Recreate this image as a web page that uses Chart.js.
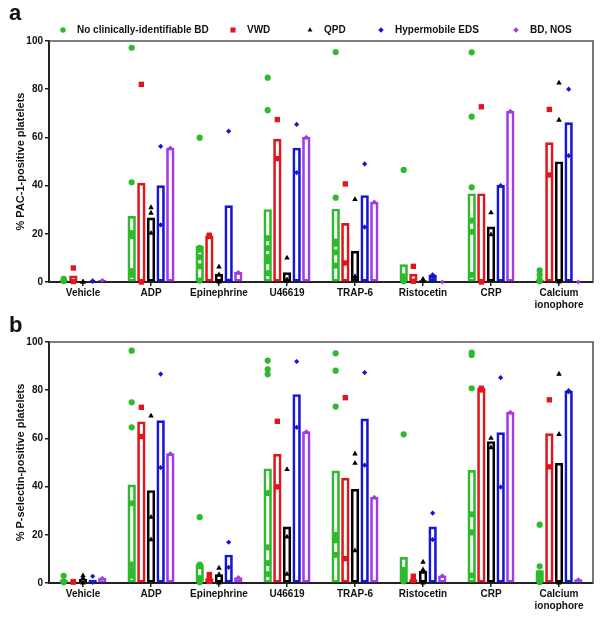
<!DOCTYPE html>
<html>
<head>
<meta charset="utf-8">
<script src="https://cdn.jsdelivr.net/npm/chart.js@4.4.1/dist/chart.umd.min.js"></script>
<style>
  html,body{margin:0;padding:0;background:#fff;overflow:hidden;}
  #wrap{position:relative;width:604px;height:620px;}
  canvas{position:absolute;left:0;}
  #chartA{top:0;}
  #chartB{top:301px;}
  .panel{position:absolute;font:bold 22px "Liberation Sans",Arial,sans-serif;line-height:22px;color:#111;}
</style>
</head>
<body>
<div id="wrap">
  <canvas id="chartA" width="604" height="320"></canvas>
  <canvas id="chartB" width="604" height="320"></canvas>
  <div class="panel" style="left:9px;top:2px">a</div>
  <div class="panel" style="left:9px;top:314px">b</div>
</div>
<script>
// agonists on the x axis
const categories = ['Vehicle','ADP','Epinephrine','U46619','TRAP-6','Ristocetin','CRP',['Calcium','ionophore']];
const seriesNames = ['No clinically-identifiable BD','VWD','QPD','Hypermobile EDS','BD, NOS'];
const yTicks = [0,20,40,60,80,100];

// --- panel a: % PAC-1-positive platelets (bar = mean, points = patients) ---
const pacBarNone = [0.8, 27.2, 14.8, 30.1, 30.3, 7.2, 36.6, 0.8];
const pacBarVwd  = [2.6, 41.0, 19.2, 59.3, 24.3, 3.2, 36.6, 57.8];
const pacBarQpd  = [0.2, 26.6, 3.3, 3.9, 12.8, 0.6, 22.9, 49.9];
const pacBarHeds = [0.4, 40.0, 31.7, 55.6, 35.9, 2.9, 40.1, 66.1];
const pacBarNos  = [0.7, 55.6, 4.0, 60.1, 33.2, 0, 70.9, 0];

const pacPtsNone = [[1.3,0.8,0.4],[97.2,41.4,20.3,19,4.5,3],[59.9,14.2,13.4,10.3,6.5,0.6],[84.8,71.3,18.2,14.1,10.3,8.6,3.7],[95.4,35,16.8,15.9,12.3,6.8],[46.5,2.3,1,0.3],[95.3,68.6,39.3,25.5,20.8,3],[4.8,3,1,0.3]];
const pacPtsVwd  = [[5.8,0.2],[82,0],[19.4,18.9],[67.4,51.2],[40.7,7.9],[6.5,0.3],[72.7,0],[71.6,44.4]];
const pacPtsQpd  = [[0,0],[30.9,28.6,20.3],[6.3,3,0],[10,1,0.3],[34.3,2.3,1.2],[1.2,0.3],[28.8,19.6],[82.6,67.2,0]];
const pacPtsHeds = [[0.5,0.3],[56.3,23.7],[62.6,0.5],[65.4,45.4],[49,22.8],[3,2],[40],[80,52.4]];
const pacPtsNos  = [[0.7],[55.6],[4],[60.1],[33.2],[0],[70.9],[0]];

// --- panel b: % P-selectin-positive platelets ---
const psBarNone = [1.2, 40.7, 7.6, 47.4, 46.5, 10.6, 46.7, 5.2];
const psBarVwd  = [0.5, 66.9, 1.8, 53.5, 43.5, 1.4, 80.8, 62.0];
const psBarQpd  = [1.5, 38.4, 3.5, 23.3, 38.9, 4.8, 58.7, 49.7];
const psBarHeds = [1.2, 67.4, 11.6, 78.2, 68.1, 23.3, 62.4, 79.7];
const psBarNos  = [2.0, 53.7, 2.3, 62.8, 35.6, 3.0, 70.9, 1.4];

const psPtsNone = [[3,0.7,0.3],[96.4,75,64.6,33.1,7.6,5.2,3],[27.3,7.6,7,2,1.4,0.3],[92.3,88.7,86.6,37.3,14.8,8.3,3.7],[95.3,88.1,73.2,20,17.7,11.7],[61.7,5.5,4.1,2.8,1.4,0.7],[95.6,94.6,80.8,28.5,21,3.2],[24.2,6.9,4.1,2.5,1.4,0.4]];
const psPtsVwd  = [[0.4,0.6],[72.9,60.8],[3.5,1.4,0.7],[67.1,39.9],[76.9,10.1],[2.8,1.1],[80.8,80.1],[76,48.2]];
const psPtsQpd  = [[3,2,0],[69.3,27.3,18],[6.2,3.5,0],[47.1,19.1,3.7],[53.6,49.7,13.4],[8.7,5.5,0],[60.1,56.2],[86.7,61.7,0]];
const psPtsHeds = [[2.8,0.3],[86.7,47.9],[16.9,6.5],[91.9,64.6],[87.3,48.9],[29,18],[85.2,39.8],[79.8,79.4]];
const psPtsNos  = [[2],[53.7],[2.3],[62.8],[35.6],[3],[70.9],[1.4]];

(function(){
  const FONT = '"Liberation Sans", Arial, sans-serif';
  const colors  = ['#2dbb2d','#e5141c','#000000','#1515d4','#a33be2'];
  const shapes  = ['circle','rect','triangle','rectRot','rectRot'];
  const radii   = [3.1, 3.8, 3.2, 2.6, 2.4];
  const legendX = [63, 233, 310, 381, 516];   // marker centres of the legend row
  const GROUP = 0.71;                          // share of a category taken by its 5 bars
  const slot = GROUP / seriesNames.length;
  const slotX = (i,k)=> i + (k - (seriesNames.length-1)/2) * slot;

  Chart.defaults.font.family = FONT;
  Chart.defaults.font.weight = 'bold';
  Chart.defaults.font.size = 10;
  Chart.defaults.color = '#111';

  function marker(ctx, k, x, y, r){
    ctx.fillStyle = colors[k];
    ctx.beginPath();
    if(shapes[k]==='circle'){ ctx.arc(x,y,r,0,Math.PI*2); }
    else if(shapes[k]==='rect'){ const s=r*0.75; ctx.rect(x-s,y-s,2*s,2*s); }
    else if(shapes[k]==='triangle'){ ctx.moveTo(x,y-r); ctx.lineTo(x+r*0.9,y+r*0.6); ctx.lineTo(x-r*0.9,y+r*0.6); ctx.closePath(); }
    else { ctx.moveTo(x,y-r); ctx.lineTo(x+r,y); ctx.lineTo(x,y+r); ctx.lineTo(x-r,y); ctx.closePath(); }
    ctx.fill();
  }

  // top + right frame of the plot box
  const framePlugin = {
    id:'frame',
    beforeDatasetsDraw(chart){
      const {ctx, chartArea:a} = chart;
      ctx.save();
      ctx.strokeStyle = '#555'; ctx.lineWidth = 1.6;
      ctx.beginPath();
      ctx.moveTo(a.left, a.top); ctx.lineTo(a.right, a.top); ctx.lineTo(a.right, a.bottom);
      ctx.stroke();
      ctx.restore();
    }
  };

  // one-row legend above panel a
  const legendPlugin = {
    id:'rowLegend',
    afterDraw(chart, args, opts){
      if(!opts.show) return;
      const ctx = chart.ctx;
      ctx.save();
      ctx.font = 'bold 10px ' + FONT;
      ctx.textBaseline = 'middle';
      seriesNames.forEach((name,k)=>{
        const x = legendX[k], y = 30;
        marker(ctx, k, x, y, k===1 ? 3.4 : 2.7);
        ctx.fillStyle = '#111';
        ctx.fillText(name, x + 14, y);
      });
      ctx.restore();
    }
  };

  // bars and points both sit on the hidden linear axis 'xs' (category i -> value i)
  function datasets(bars, pts){
    const out = [];
    bars.forEach((vals,k)=>{
      out.push({
        type:'bar', label:seriesNames[k], xAxisID:'xs', yAxisID:'y',
        data: vals.map((v,i)=>({x: slotX(i,k), y: v})),
        grouped:false, categoryPercentage:1, barPercentage:1, maxBarThickness:7.7,
        backgroundColor:'rgba(0,0,0,0)', borderColor:colors[k], borderWidth:2, borderSkipped:false,
        order:2
      });
    });
    pts.forEach((groups,k)=>{
      const data = [];
      groups.forEach((vals,i)=> vals.forEach(v=> data.push({x: slotX(i,k), y: v})));
      out.push({
        type:'scatter', label:seriesNames[k], data, xAxisID:'xs', yAxisID:'y',
        pointStyle:shapes[k], pointRadius:radii[k], pointBackgroundColor:colors[k],
        pointBorderWidth:0, clip:false, order:1
      });
    });
    return out;
  }

  function build(id, yTitle, bars, pts, showLegend){
    return new Chart(document.getElementById(id), {
      type:'bar',
      data:{ labels:categories, datasets:datasets(bars, pts) },
      options:{
        responsive:false, animation:false,
        layout:{ padding:{ top:41, right:11, left:0, bottom:0 } },
        plugins:{ legend:{display:false}, tooltip:{enabled:false}, rowLegend:{show:showLegend} },
        scales:{
          x:{
            type:'category', offset:true,
            grid:{display:true, offset:false, drawOnChartArea:false, drawTicks:true, tickLength:4, color:'#222', lineWidth:1.5},
            border:{display:true, color:'#222', width:2},
            ticks:{padding:1, maxRotation:0, autoSkip:false, color:'#111', font:{size:10, weight:'bold'}},
            afterFit(s){ s.height = 38; }
          },
          xs:{ type:'linear', display:false, offset:false, min:-0.5, max:categories.length-0.5 },
          y:{
            min:yTicks[0], max:yTicks[yTicks.length-1],
            afterBuildTicks(s){ s.ticks = yTicks.map(v=>({value:v})); },
            ticks:{padding:2, color:'#111', font:{size:10, weight:'bold'}},
            grid:{display:true, drawOnChartArea:false, drawTicks:true, tickLength:4, color:'#222', lineWidth:1.5},
            border:{display:true, color:'#222', width:2},
            title:{display:true, text:yTitle, color:'#111', font:{size:11, weight:'bold'}, padding:{top:14, bottom:0}},
            afterFit(s){ s.width = 49; }
          }
        }
      },
      plugins:[framePlugin, legendPlugin]
    });
  }

  build('chartA', '% PAC-1-positive platelets',
    [pacBarNone, pacBarVwd, pacBarQpd, pacBarHeds, pacBarNos],
    [pacPtsNone, pacPtsVwd, pacPtsQpd, pacPtsHeds, pacPtsNos], true);
  build('chartB', '% P-selectin-positive platelets',
    [psBarNone, psBarVwd, psBarQpd, psBarHeds, psBarNos],
    [psPtsNone, psPtsVwd, psPtsQpd, psPtsHeds, psPtsNos], false);
})();
</script>
</body>
</html>
